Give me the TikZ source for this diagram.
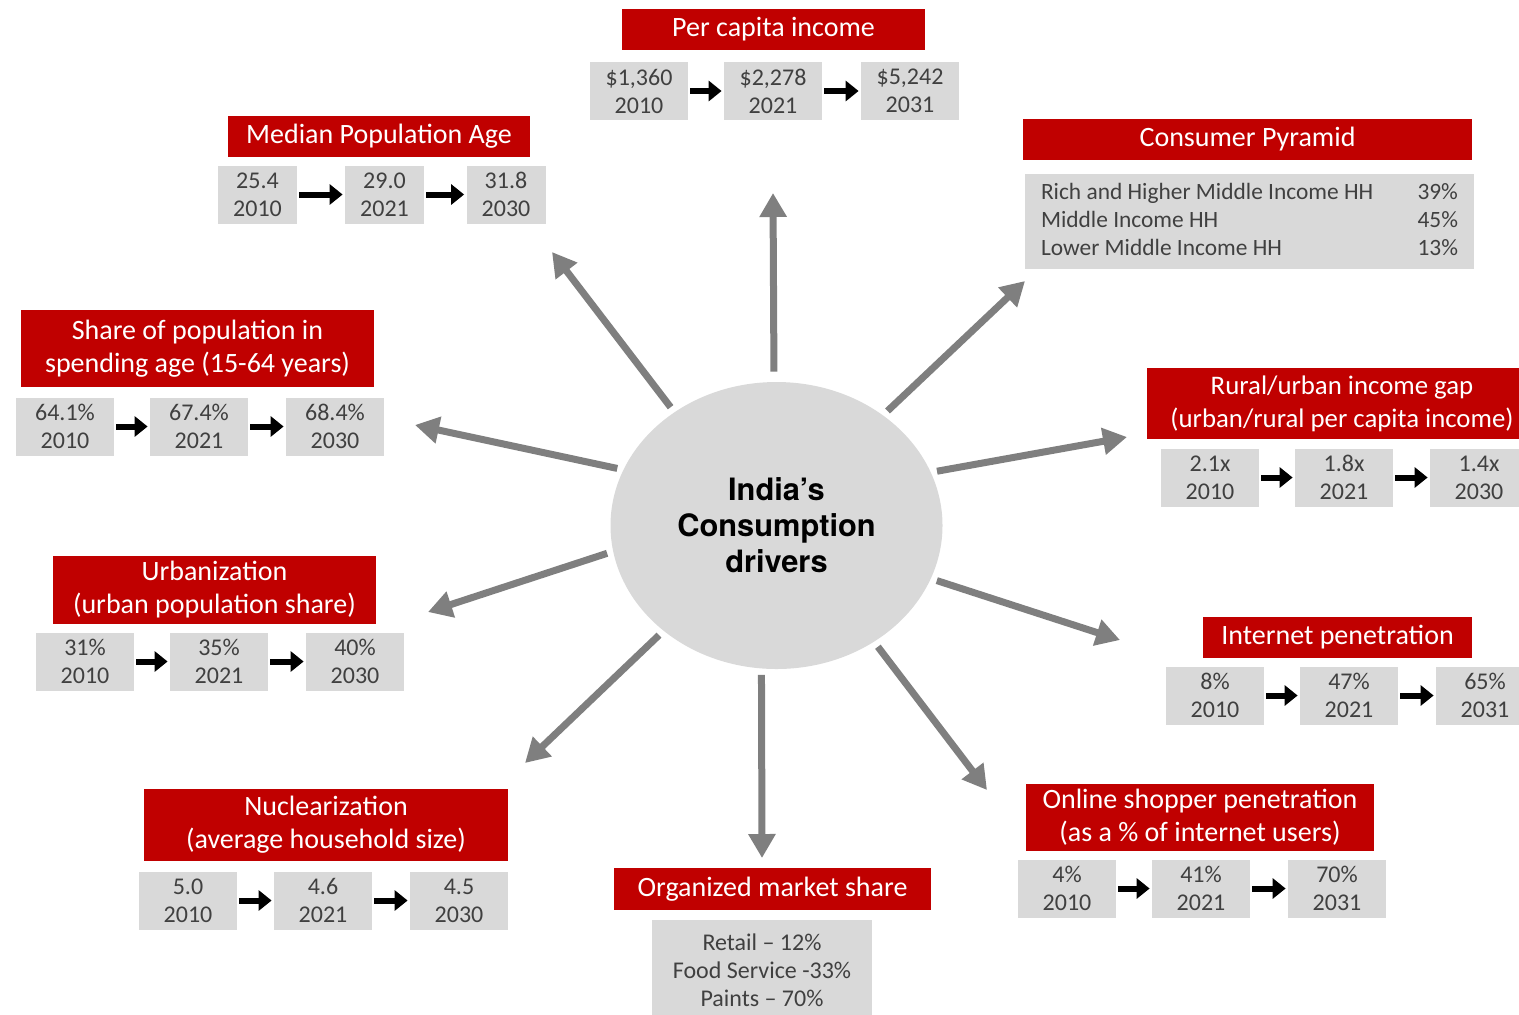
\documentclass[tikz,border=0pt]{standalone}
\usepackage{fontspec}
\setmainfont{Carlito}
\newfontfamily\heros{TeX Gyre Heros}
\usetikzlibrary{arrows.meta,shapes.geometric}

\definecolor{hdred}{HTML}{C00000}
\definecolor{boxgray}{HTML}{D9D9D9}
\definecolor{spokegray}{HTML}{7F7F7F}
\definecolor{valtext}{HTML}{404040}

\tikzset{
	head/.style={fill=hdred, text=white, inner sep=0pt, align=center,
		font=\fontsize{14}{16.5}\selectfont},
	val/.style={fill=boxgray, text=valtext, inner sep=0pt, align=center,
		minimum width=49pt, minimum height=29pt,
		font=\fontsize{12}{14}\selectfont},
	nextarr/.style={-{Triangle[length=6.5pt,width=10pt]}, line width=3pt,
		shorten <=1pt, shorten >=1pt},
	spoke/.style={draw=spokegray, line width=3.5pt,
		-{Triangle[length=12pt,width=13pt]}, shorten <=3pt},
}

\begin{document}
\begin{tikzpicture}[x=0.5pt,y=-0.5pt]
	\useasboundingbox (0,0) rectangle (1519,1014);
	\clip (0,0) rectangle (1519,1014);

	% centre
	\node[ellipse, fill=boxgray, minimum width=166pt, minimum height=143.5pt,
		inner sep=0pt, align=center,
		font=\heros\bfseries\fontsize{15.4}{18}\selectfont] (ctr) at (776.5,525.5)
		{India’s\\Consumption\\drivers};

	% per capita income
	\node[head, minimum width=151.5pt, minimum height=20.5pt] (pci) at (773.5,29.5) {Per capita income};
	\node[val] (pci1) at (639,91) {\$1,360\\2010};
	\node[val] (pci2) at (773,91) {\$2,278\\2021};
	\node[val] (pci3) at (910,91) {\$5,242\\2031};

	% median age
	\node[head, minimum width=151pt, minimum height=20.5pt] (med) at (379,136.5) {Median Population Age};
	\node[val, minimum width=39.5pt] (med1) at (257.5,194.5) {25.4\\2010};
	\node[val, minimum width=39.5pt] (med2) at (384.5,194.5) {29.0\\2021};
	\node[val, minimum width=39.5pt] (med3) at (506,194.5) {31.8\\2030};

	% consumer pyramid
	\node[head, minimum width=224.5pt, minimum height=20.5pt] (cp) at (1247.5,139.5) {Consumer Pyramid};
	\node[fill=boxgray, text=valtext, inner sep=0pt, minimum width=224.5pt, minimum height=47.5pt,
		font=\fontsize{11.7}{14}\selectfont] (cpb) at (1249.5,221.5)
		{\begin{tabular*}{208.5pt}{@{}l@{\extracolsep{\fill}}r@{}}
			Rich and Higher Middle Income HH & 39\%\\
			Middle Income HH & 45\%\\
			Lower Middle Income HH & 13\%
		\end{tabular*}};

	% spending age
	\node[head, minimum width=176.5pt, minimum height=38.5pt] (spa) at (197.5,348.5)
		{Share of population in\\spending age (15-64 years)};
	\node[val] (spa1) at (65,426.5) {64.1\%\\2010};
	\node[val] (spa2) at (199,426.5) {67.4\%\\2021};
	\node[val] (spa3) at (335,426.5) {68.4\%\\2030};

	% rural/urban gap
	\node[head, minimum width=195pt, minimum height=35.5pt,
		font=\fontsize{13.4}{16.5}\selectfont] (rug) at (1342,403.5)
		{Rural/urban income gap\\(urban/rural per capita income)};
	\node[val] (rug1) at (1210,477.5) {2.1x\\2010};
	\node[val] (rug2) at (1344,477.5) {1.8x\\2021};
	\node[val] (rug3) at (1479,477.5) {1.4x\\2030};

	% urbanization
	\node[head, minimum width=161.5pt, minimum height=34pt] (urb) at (214.5,590)
		{Urbanization\\(urban population share)};
	\node[val] (urb1) at (85,661.5) {31\%\\2010};
	\node[val] (urb2) at (219,661.5) {35\%\\2021};
	\node[val] (urb3) at (355,661.5) {40\%\\2030};

	% internet
	\node[head, minimum width=134.5pt, minimum height=20.5pt] (inet) at (1337.5,637.5) {Internet penetration};
	\node[val] (inet1) at (1215,695.5) {8\%\\2010};
	\node[val] (inet2) at (1349,695.5) {47\%\\2021};
	\node[val] (inet3) at (1485,695.5) {65\%\\2031};

	% nuclearization
	\node[head, minimum width=182pt, minimum height=36pt] (nuc) at (326,825)
		{Nuclearization\\(average household size)};
	\node[val] (nuc1) at (188,900.5) {5.0\\2010};
	\node[val] (nuc2) at (323,900.5) {4.6\\2021};
	\node[val] (nuc3) at (459,900.5) {4.5\\2030};

	% organized market
	\node[head, minimum width=158.5pt, minimum height=21pt] (oms) at (772.5,889) {Organized market share};
	\node[val, minimum width=110pt, minimum height=50pt] (omsb) at (762,970)
		{Retail – 12\%\\Food Service -33\%\\Paints – 70\%};

	% online shoppers
	\node[head, minimum width=174pt, minimum height=33.5pt] (osp) at (1200,817.5)
		{Online shopper penetration\\(as a \% of internet users)};
	\node[val] (osp1) at (1067,888.5) {4\%\\2010};
	\node[val] (osp2) at (1201,888.5) {41\%\\2021};
	\node[val] (osp3) at (1337,888.5) {70\%\\2031};

	\foreach \a/\b in {pci1/pci2,pci2/pci3,med1/med2,med2/med3,spa1/spa2,spa2/spa3,
		rug1/rug2,rug2/rug3,urb1/urb2,urb2/urb3,inet1/inet2,inet2/inet3,
		nuc1/nuc2,nuc2/nuc3,osp1/osp2,osp2/osp3}
		\draw[nextarr] (\a) -- (\b);

	% spokes
	\coordinate (tUp) at (773,193);
	\coordinate (tUL) at (552,252);
	\coordinate (tUR) at (1025,281);
	\coordinate (tL) at (415,425);
	\coordinate (tR) at (1127,437);
	\coordinate (tLL) at (428,612);
	\coordinate (tRL) at (1120,640);
	\coordinate (tDL) at (525,763);
	\coordinate (tDn) at (762,858);
	\coordinate (tDR) at (987,790);

	\draw[spoke, shorten <=5pt] (ctr.91) -- (tUp);
	\foreach \ang/\tip in {132/tUL,46/tUR,160/tL,19/tR,189/tLL,341/tRL,223/tDL,264/tDn,310/tDR}
		\draw[spoke] (ctr.\ang) -- (\tip);
\end{tikzpicture}
\end{document}
